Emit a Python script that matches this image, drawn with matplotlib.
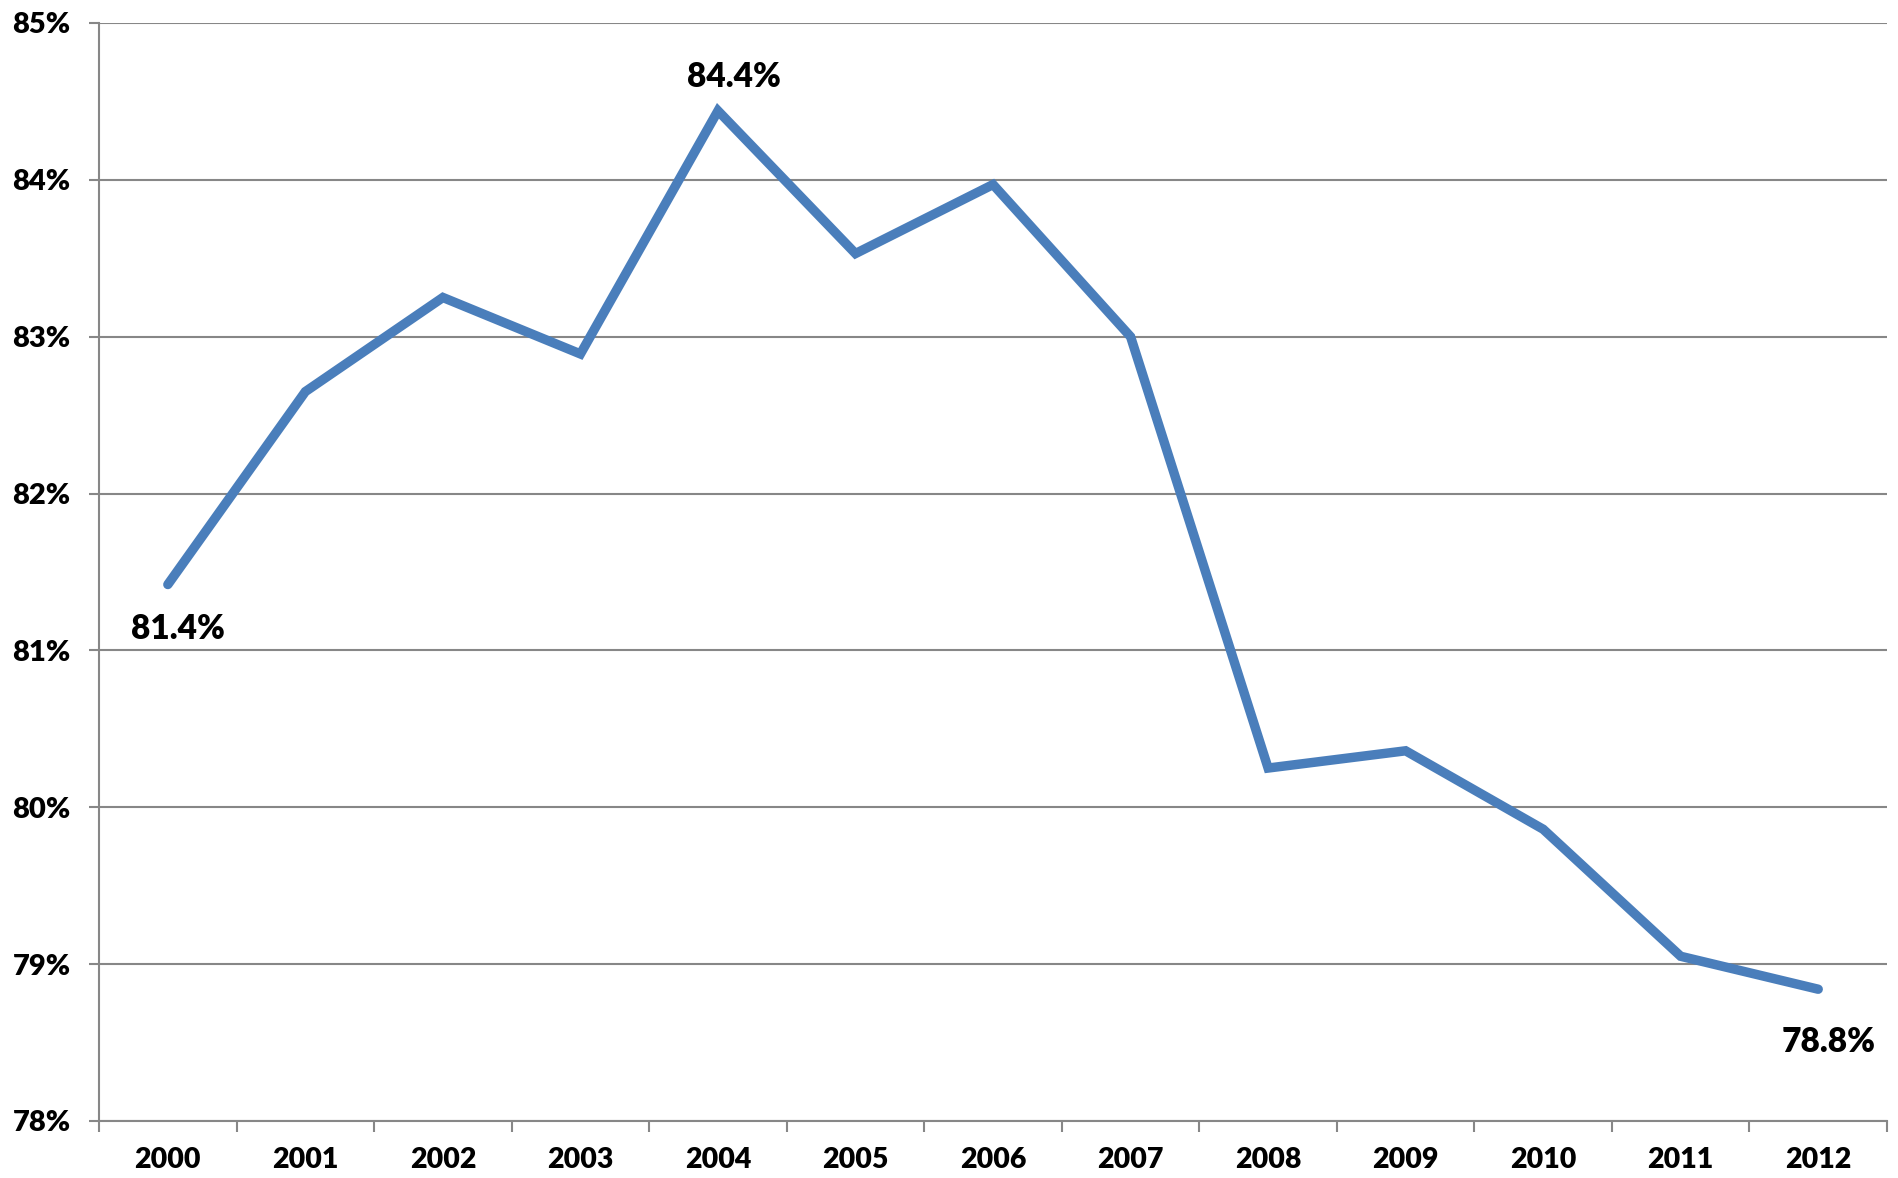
import matplotlib
matplotlib.use("Agg")
import matplotlib.pyplot as plt
from matplotlib.ticker import FuncFormatter, FixedLocator

years = ["2000", "2001", "2002", "2003", "2004", "2005", "2006",
         "2007", "2008", "2009", "2010", "2011", "2012"]
share = [81.42, 82.65, 83.25, 82.89, 84.44, 83.53, 83.97,
         83.00, 80.25, 80.36, 79.86, 79.05, 78.84]
label_idx = [0, 4, 12]
label_offsets = [(10, -44), (16, 34), (10, -53)]

LINE = "#4A7EBB"
GRID = "#878787"

plt.rcParams["font.family"] = ["Lato", "DejaVu Sans"]
plt.rcParams["font.weight"] = "heavy"

fig = plt.figure(figsize=(18.98, 11.78), dpi=100)
ax = fig.add_axes([0.0522, 0.0484, 0.942, 0.9321])

x = list(range(len(years)))
ax.plot(x, share, color=LINE, linewidth=6.8, solid_capstyle="round",
        solid_joinstyle="miter", zorder=3)

for i, (dx, dy) in zip(label_idx, label_offsets):
    ax.annotate("{0:.1f}%".format(share[i]), (x[i], share[i]),
                xytext=(dx, dy), textcoords="offset pixels",
                ha="center", va="center", fontsize=24, fontweight="heavy")

ax.set_xlim(-0.5, len(years) - 0.5)
ax.set_ylim(78, 85)
ax.set_yticks(range(78, 86))
ax.yaxis.set_major_formatter(FuncFormatter(lambda v, p: "{0:.0f}%".format(v)))
ax.yaxis.grid(True, color=GRID, linewidth=1.5)
ax.set_axisbelow(True)

ax.set_xticks(x)
ax.set_xticklabels(years)
ax.xaxis.set_minor_locator(FixedLocator([i - 0.5 for i in range(len(years) + 1)]))
ax.tick_params(axis="x", which="major", length=0, pad=19, labelsize=20.5)
ax.tick_params(axis="x", which="minor", length=8, width=1.5, color=GRID)
ax.tick_params(axis="y", length=7.5, width=1.5, color=GRID, pad=13, labelsize=21)

for s in ["top", "right"]:
    ax.spines[s].set_visible(False)
for s in ["left", "bottom"]:
    ax.spines[s].set_color(GRID)
    ax.spines[s].set_linewidth(1.5)

fig.savefig("out.png")
